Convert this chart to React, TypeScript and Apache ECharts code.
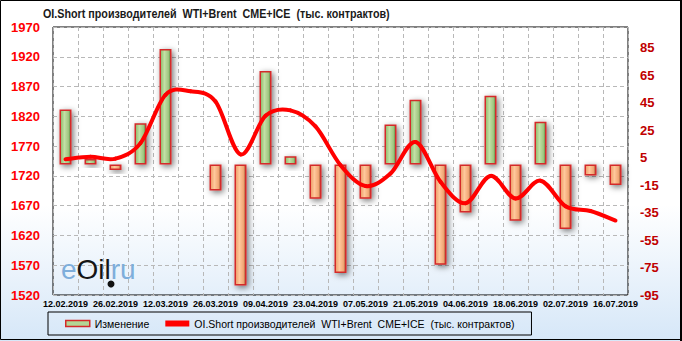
import React, { useEffect, useRef } from "react";
import * as echarts from "echarts";

const categories = [
  "12.02.2019", "19.02.2019", "26.02.2019", "05.03.2019", "12.03.2019", "19.03.2019",
  "26.03.2019", "02.04.2019", "09.04.2019", "16.04.2019", "23.04.2019", "30.04.2019",
  "07.05.2019", "14.05.2019", "21.05.2019", "28.05.2019", "04.06.2019", "11.06.2019",
  "18.06.2019", "25.06.2019", "02.07.2019", "09.07.2019", "16.07.2019",
];
const changeValues = [40, 4, -4, 30, 84, -0.5, -19, -88, 68, 6, -25, -79, -25, 29, 47, -73, -35, 50, -41, 31, -47, -8, -15];
const oiShortValues = [1748, 1752, 1749, 1775, 1856, 1862, 1845, 1756, 1821, 1830, 1803, 1738, 1703, 1724, 1777, 1710, 1674, 1720, 1682, 1712, 1669, 1661, 1645];
const leftTicks = [1520, 1570, 1620, 1670, 1720, 1770, 1820, 1870, 1920, 1970];
const rightTicks = [-95, -75, -55, -35, -15, 5, 25, 45, 65, 85];

const TITLE = "OI.Short производителей  WTI+Brent  CME+ICE  (тыс. контрактов)";
const BAR_NAME = "Изменение";
const LINE_NAME = "OI.Short производителей  WTI+Brent  CME+ICE  (тыс. контрактов)";

const SANS = "'Liberation Sans', Arial, sans-serif";

export default function App() {
  const ref = useRef<HTMLDivElement>(null);

  useEffect(() => {
    document.body.style.margin = "0";
    if (!ref.current) return;
    const chart = echarts.init(ref.current, null, { renderer: "svg" });

    const green = new echarts.graphic.LinearGradient(0, 0, 1, 0, [
      { offset: 0, color: "#8cb866" },
      { offset: 0.4, color: "#c3e0a6" },
      { offset: 0.78, color: "#9fc780" },
      { offset: 1, color: "#557f36" },
    ]);
    const orange = new echarts.graphic.LinearGradient(0, 0, 1, 0, [
      { offset: 0, color: "#ec9a64" },
      { offset: 0.4, color: "#ffc89c" },
      { offset: 0.78, color: "#f2a775" },
      { offset: 1, color: "#97502c" },
    ]);

    const barData = changeValues.map((v) => ({
      value: v,
      itemStyle: { color: v >= 0 ? green : orange },
    }));

    const n = oiShortValues.length;
    const clampIdx = (k: number) => Math.max(0, Math.min(n - 1, k));

    chart.setOption({
      animation: false,
      backgroundColor: new echarts.graphic.LinearGradient(0, 0, 0, 1, [
        { offset: 0, color: "#ffffff" },
        { offset: 0.6, color: "#ffffff" },
        { offset: 1, color: "#d6e7f8" },
      ]),
      legend: {
        left: 48,
        top: 312,
        data: [
          {
            name: BAR_NAME,
            icon: "rect",
            itemStyle: { color: "#b3d695", borderColor: "#d42a2a", borderWidth: 1.5 },
          },
          { name: LINE_NAME, icon: "rect", itemStyle: { color: "#ff0000" } },
        ],
        itemWidth: 24,
        itemHeight: 6,
        itemGap: 16,
        borderColor: "#000",
        borderWidth: 1,
        padding: [6, 17, 6, 17],
        textStyle: { fontSize: 10.5, fontFamily: SANS, color: "#000" },
      },
      grid: {
        left: 53,
        right: 54,
        top: 27,
        bottom: 46,
        show: true,
        borderColor: "#000",
        borderWidth: 1,
        backgroundColor: "transparent",
      },
      xAxis: {
        type: "category",
        data: categories,
        boundaryGap: true,
        axisLine: { show: false },
        axisTick: { show: false, interval: 0 },
        axisLabel: {
          interval: 1,
          fontSize: 9,
          fontWeight: "bold",
          color: "#000",
          margin: 4,
          fontFamily: SANS,
        },
        splitLine: { show: true, interval: 0, lineStyle: { color: "#b8b8b8", type: [4, 3], width: 1 } },
      },
      yAxis: [
        {
          type: "value",
          min: 1520,
          max: 1970,
          position: "left",
          axisLine: { show: false },
          axisTick: { show: false, customValues: leftTicks },
          axisLabel: {
            customValues: leftTicks,
            formatter: (v: number) => String(v),
            color: "#ff0000",
            fontSize: 13,
            fontWeight: "bold",
            margin: 13,
            fontFamily: SANS,
          },
          splitLine: { show: true, lineStyle: { color: "#b8b8b8", type: [4, 3], width: 1 } },
        },
        {
          type: "value",
          min: -95,
          max: 100,
          position: "right",
          axisLine: { show: false },
          axisTick: { show: false, customValues: rightTicks },
          axisLabel: {
            customValues: rightTicks,
            formatter: (v: number) => String(v),
            color: "#c00000",
            fontSize: 13,
            fontWeight: "bold",
            margin: 12,
            fontFamily: SANS,
          },
          splitLine: { show: false },
        },
      ],
      graphic: [
        {
          type: "text",
          x: 43,
          y: 13,
          scaleX: 0.86,
          z: 10,
          style: {
            text: TITLE,
            fontSize: 12.5,
            fontWeight: "bold",
            fontFamily: SANS,
            fill: "#1a1a1a",
            verticalAlign: "middle",
          },
        },
        {
          type: "text",
          left: 61,
          top: 255,
          z: 1,
          style: {
            text: "{a|e}{b|Oil}{a|ru}",
            rich: {
              a: { fontSize: 28, fontFamily: SANS, fill: "#7eaedb" },
              b: { fontSize: 28, fontFamily: SANS, fill: "#151515" },
            },
          },
        },
        {
          type: "circle",
          z: 1,
          shape: { cx: 111, cy: 284, r: 3.5 },
          style: { fill: "#111" },
        },
        {
          type: "rect",
          z: 100,
          shape: { x: 0.5, y: 0.5, width: 680, height: 339 },
          style: { fill: "none", stroke: "#000", lineWidth: 1 },
        },
        {
          type: "line",
          z: 100,
          shape: { x1: 681, y1: 0, x2: 681, y2: 341 },
          style: { stroke: "#000", lineWidth: 2 },
        },
      ],
      series: [
        {
          name: BAR_NAME,
          type: "bar",
          yAxisIndex: 1,
          data: barData,
          barWidth: 12,
          z: 2,
          itemStyle: {
            borderColor: "#d42a2a",
            borderWidth: 1.5,
            shadowBlur: 6,
            shadowColor: "rgba(0,0,0,0.55)",
            shadowOffsetX: 2,
            shadowOffsetY: 2,
          },
        },
        {
          name: LINE_NAME,
          type: "custom",
          yAxisIndex: 0,
          data: oiShortValues.map((v, i) => [i, v]),
          encode: { x: 0, y: 1 },
          z: 3,
          itemStyle: { color: "#ff0000" },
          renderItem: (params: any, api: any) => {
            const i = params.dataIndex;
            if (i >= n - 1) return null;
            const p = (k: number) => {
              const c = clampIdx(k);
              return api.coord([c, oiShortValues[c]]);
            };
            const p0 = p(i - 1);
            const p1 = p(i);
            const p2 = p(i + 1);
            const p3 = p(i + 2);
            const t = 1 / 6;
            return {
              type: "bezierCurve",
              shape: {
                x1: p1[0],
                y1: p1[1],
                x2: p2[0],
                y2: p2[1],
                cpx1: p1[0] + (p2[0] - p0[0]) * t,
                cpy1: p1[1] + (p2[1] - p0[1]) * t,
                cpx2: p2[0] - (p3[0] - p1[0]) * t,
                cpy2: p2[1] - (p3[1] - p1[1]) * t,
              },
              style: { stroke: "#ff0000", lineWidth: 4, fill: "none", lineCap: "round" },
            };
          },
        },
      ],
    });

    return () => chart.dispose();
  }, []);

  return <div ref={ref} style={{ width: 682, height: 341 }} />;
}
